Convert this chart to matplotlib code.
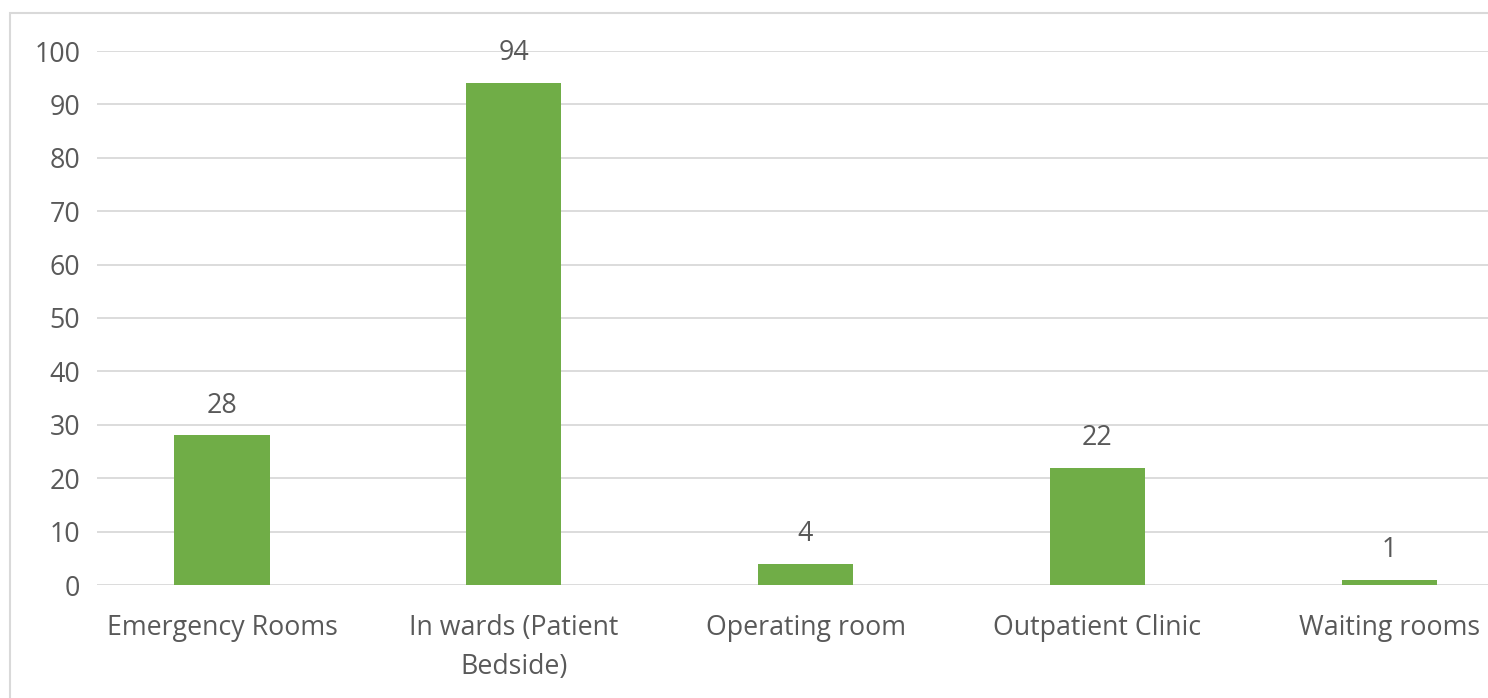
import matplotlib
matplotlib.use("Agg")
import matplotlib.pyplot as plt
from matplotlib.patches import Rectangle
import numpy as np

categories = ["Emergency Rooms", "In wards (Patient\nBedside)", "Operating room",
              "Outpatient Clinic", "Waiting rooms"]
values = [28, 94, 4, 22, 1]
y_ticks = [0, 10, 20, 30, 40, 50, 60, 70, 80, 90, 100]

W, H = 1488, 698
fig = plt.figure(figsize=(W / 100, H / 100), dpi=100)
plt.rcParams['font.family'] = ['Open Sans', 'DejaVu Sans']

# outer chart border (cropped on right/bottom)
fig.patches.append(Rectangle((10 / W, -0.05), 1.2, 1 - 13 / H + 0.05,
                             transform=fig.transFigure, fill=False,
                             edgecolor='#d9d9d9', linewidth=1.5))

ax = fig.add_axes([97 / W, 1 - 585 / H, 1 - 97 / W, (585 - 51) / H])
x = np.arange(len(categories))
ax.bar(x, values, width=0.326, color='#70ad47', zorder=3)

text_color = '#595959'
fs = 19.3
for xi, v in zip(x, values):
    ax.annotate(str(v), (xi, v), xytext=(0, 11.5), textcoords='offset points',
                ha='center', va='bottom', fontsize=fs, color=text_color)

ax.set_ylim(0, 100)
ax.set_xlim(-0.4284, 4.339)
ax.set_yticks(y_ticks)
ax.set_xticks(x)
ax.set_xticklabels(categories, fontsize=fs, color=text_color, linespacing=1.5)
ax.tick_params(axis='y', labelsize=fs, colors=text_color, length=0, pad=12)
ax.tick_params(axis='x', length=0, pad=21)
ax.grid(axis='y', color='#d9d9d9', linewidth=1.3, zorder=0)
for s in ax.spines.values():
    s.set_visible(False)

fig.savefig("out.png", dpi=100)
